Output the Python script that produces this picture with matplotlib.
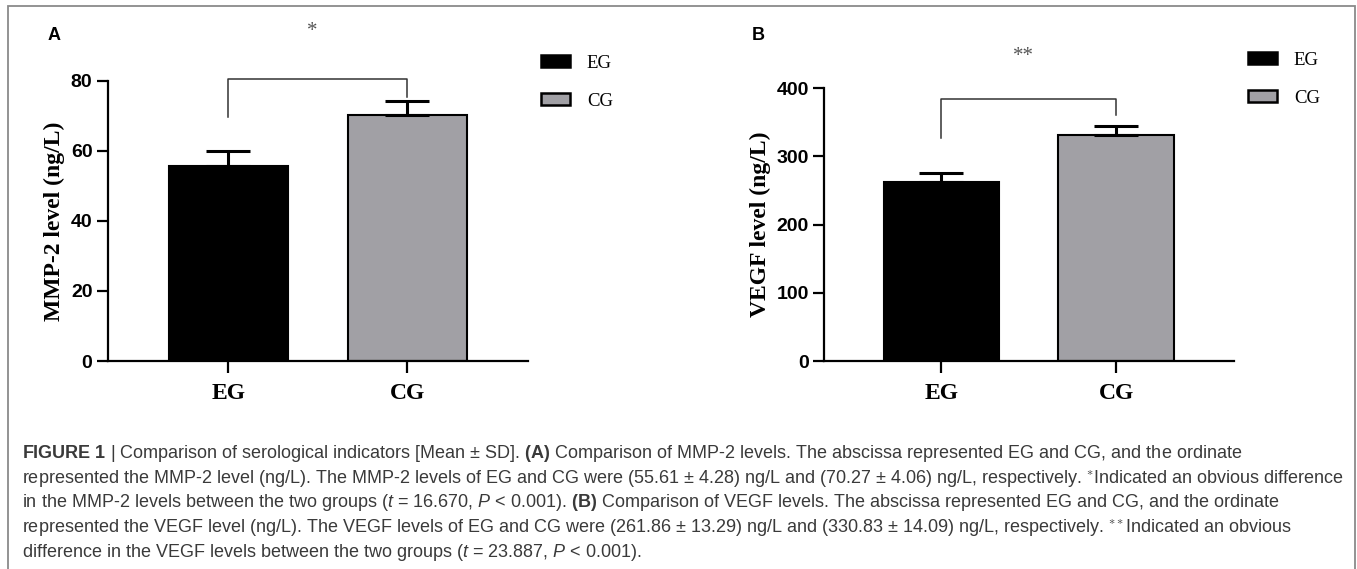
import numpy as np
import matplotlib
matplotlib.use("Agg")
import matplotlib.pyplot as plt
from matplotlib.patches import Patch, Rectangle

plt.rcParams["mathtext.fontset"] = "custom"
plt.rcParams["mathtext.rm"] = "Liberation Sans"
plt.rcParams["mathtext.it"] = "Liberation Sans:italic"
plt.rcParams["mathtext.bf"] = "Liberation Sans:bold"

GROUPS = ["EG", "CG"]
MMP2_MEAN = [55.61, 70.27]
MMP2_SD = [4.28, 4.06]
VEGF_MEAN = [261.86, 330.83]
VEGF_SD = [13.29, 14.09]

# significance bracket: top, left leg end, right leg end, star height (data units)
MMP2_BRACKET = [80.5, 69.7, 75.4, 94.0]
VEGF_BRACKET = [384.8, 327.6, 360.9, 446.0]

CAPTION = [
    r"$\mathbf{FIGURE\ 1}$ | Comparison of serological indicators [Mean $\pm$ SD]. "
    r"$\mathbf{(A)}$ Comparison of MMP-2 levels. The abscissa represented EG and CG, and the ordinate",
    r"represented the MMP-2 level (ng/L). The MMP-2 levels of EG and CG were (55.61 $\pm$ 4.28) ng/L "
    r"and (70.27 $\pm$ 4.06) ng/L, respectively. $^{\ast}$Indicated an obvious difference",
    r"in the MMP-2 levels between the two groups ($\mathit{t}$ = 16.670, $\mathit{P}$ < 0.001). "
    r"$\mathbf{(B)}$ Comparison of VEGF levels. The abscissa represented EG and CG, and the ordinate",
    r"represented the VEGF level (ng/L). The VEGF levels of EG and CG were (261.86 $\pm$ 13.29) ng/L "
    r"and (330.83 $\pm$ 14.09) ng/L, respectively. $^{\ast\ast}$Indicated an obvious",
    r"difference in the VEGF levels between the two groups ($\mathit{t}$ = 23.887, $\mathit{P}$ < 0.001).",
]

W, H = 1357, 569
BLACK, GREY = "#000000", "#a1a0a5"
SERIF = "Liberation Serif"
SANS = "Liberation Sans"

fig = plt.figure(figsize=(W / 100, H / 100), dpi=100, facecolor="white")


def px_axes(left, right, top, bottom):
    return fig.add_axes([left / W, 1 - bottom / H, (right - left) / W, (bottom - top) / H])


def panel(ax, means, sds, ymax, step, ylabel, bracket, stars):
    x = np.arange(len(GROUPS))
    ax.bar(x, means, width=0.663, color=[BLACK, GREY], edgecolor=BLACK,
           linewidth=1.5, zorder=2)
    ax.errorbar(x, means, yerr=[np.zeros(len(sds)), sds], fmt="none",
                ecolor=BLACK, elinewidth=2.2, capsize=16, capthick=2.2, zorder=3)
    ax.set_xlim(-0.672, 1.673)
    ax.set_ylim(0, ymax)
    ax.set_yticks(np.arange(0, ymax + 1, step))
    ax.set_xticks(x)
    ax.set_xticklabels(GROUPS, fontfamily=SERIF, fontweight="bold", fontsize=17)
    for lab in ax.get_yticklabels():
        lab.set_fontfamily(SANS)
        lab.set_fontweight("bold")
        lab.set_fontsize(14)
    for side in ("top", "right"):
        ax.spines[side].set_visible(False)
    for side in ("left", "bottom"):
        ax.spines[side].set_linewidth(1.6)
    ax.tick_params(axis="y", length=8, width=1.6, pad=3)
    ax.tick_params(axis="x", length=8.5, width=1.6, pad=7)
    ax.set_ylabel(ylabel, fontfamily=SERIF, fontweight="bold", fontsize=17, labelpad=4)
    top, left_end, right_end, star_y = bracket
    ax.plot([0, 0, 1, 1], [left_end, top, top, right_end], color="#333333",
            lw=1.1, clip_on=False, zorder=4)
    ax.text(0.47, star_y, stars, ha="center", va="center", fontfamily=SERIF,
            fontsize=15, color="#555555", clip_on=False)


axA = px_axes(107.7, 528, 80.7, 361)
panel(axA, MMP2_MEAN, MMP2_SD, 80, 20, "MMP-2 level (ng/L)", MMP2_BRACKET, "*")
axB = px_axes(824, 1234, 88.3, 361)
panel(axB, VEGF_MEAN, VEGF_SD, 400, 100, "VEGF level (ng/L)", VEGF_BRACKET, "**")

handles = [Patch(facecolor=BLACK, edgecolor=BLACK, linewidth=1.8),
           Patch(facecolor=GREY, edgecolor=BLACK, linewidth=1.8)]
for lx, ly in ((541, 55), (1248, 52)):
    fig.legend(handles, GROUPS, loc="upper left", bbox_to_anchor=(lx / W, 1 - ly / H),
               frameon=False, borderpad=0, borderaxespad=0,
               prop={"family": SERIF, "size": 13.5}, handlelength=1.55,
               handleheight=0.6, handletextpad=0.9, labelspacing=1.12)

fig.text(48 / W, 1 - 36 / H, "A", fontfamily=SANS, fontweight="bold", fontsize=13,
         va="center", ha="left")
fig.text(752 / W, 1 - 35 / H, "B", fontfamily=SANS, fontweight="bold", fontsize=13,
         va="center", ha="left")

# framing box (no bottom edge inside the picture)
fig.add_artist(Rectangle((8 / W, -0.1), (1355 - 8) / W, 1.1 - 6 / H,
                         transform=fig.transFigure, fill=False,
                         edgecolor="#8a8a8a", linewidth=1.3))

for i, line in enumerate(CAPTION):
    fig.text(22 / W, 1 - (458 + 24.7 * i) / H, line, fontfamily=SANS, fontsize=13,
             color="#3a3a3a", va="baseline", ha="left")

fig.savefig("out.png", dpi=100, facecolor="white")
